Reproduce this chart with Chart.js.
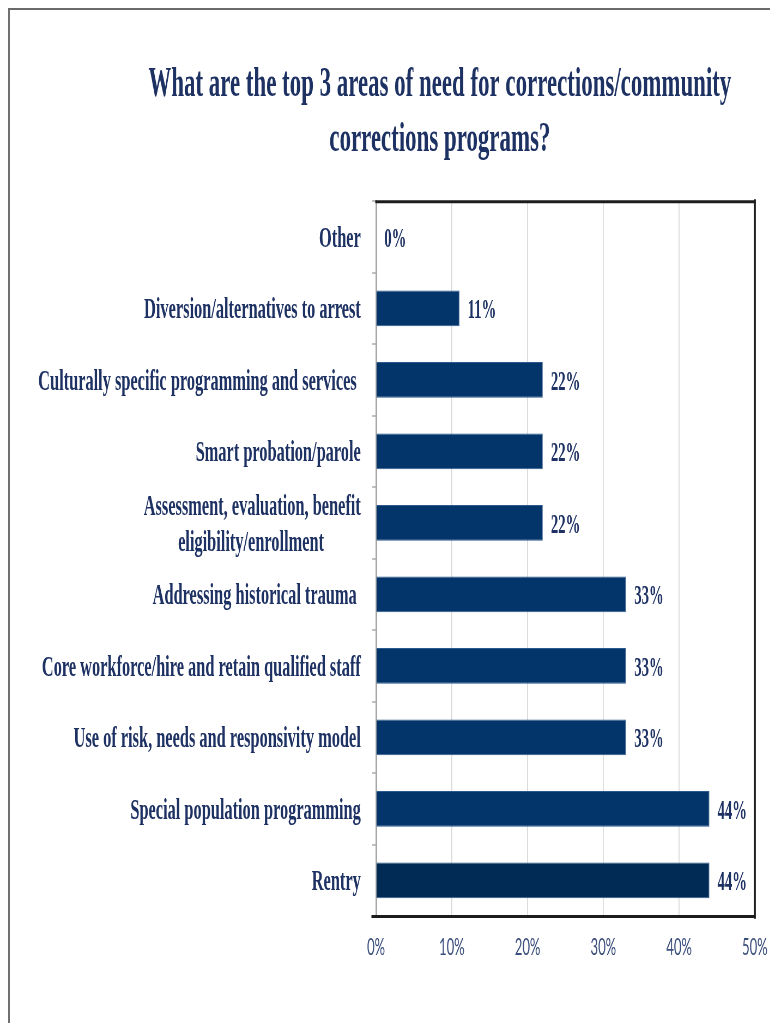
<!DOCTYPE html>
<html>
<head>
<meta charset="utf-8">
<title>Top 3 areas of need for corrections/community corrections programs</title>
<script src="https://cdn.jsdelivr.net/npm/chart.js@4.4.1/dist/chart.umd.min.js"></script>
<style>
  html, body { margin: 0; padding: 0; background: #ffffff; overflow: hidden; }
  /* page frame: thin grey rule along the left and top edges */
  #frame {
    position: absolute; left: 8px; top: 8px; width: 900px; height: 1100px;
    border-left: 2px solid #707070; border-top: 2px solid #6a6a6a;
  }
  /* the chart is laid out wide and squeezed horizontally, giving the condensed lettering */
  #stage {
    position: absolute; left: 0; top: 0; width: 1600px; height: 1023px;
    transform: scaleX(0.545); transform-origin: 0 0;
  }
</style>
</head>
<body>
<div id="frame"></div>
<div id="stage"><canvas id="chart" width="1600" height="1023"></canvas></div>
<script>
// ---- data ----
const titleLines = [
  'What are the top 3 areas of need for corrections/community',
  'corrections programs?'
];
const categories = [
  'Other',
  'Diversion/alternatives to arrest',
  'Culturally specific programming and services ',
  'Smart probation/parole',
  ['Assessment, evaluation, benefit', 'eligibility/enrollment         '],
  'Addressing historical trauma ',
  'Core workforce/hire and retain qualified staff',
  'Use of risk, needs and responsivity model',
  'Special population programming',
  'Rentry'
];
const shares = [0, 11, 22, 22, 22, 33, 33, 33, 44, 44];
const percentTicks = [0, 10, 20, 30, 40, 50];

// ---- styling ----
const SERIF = "'Liberation Serif', 'Times New Roman', serif";
const NAVY_TEXT = '#1d3163';
const barColors = categories.map((c, i) => i === categories.length - 1 ? '#012a55' : '#03356a');

// value labels to the right of each bar, plus the dark plot frame
const barExtras = {
  id: 'barExtras',
  afterDatasetsDraw(chart) {
    const ctx = chart.ctx;
    const meta = chart.getDatasetMeta(0);
    ctx.save();
    ctx.font = "bold 27px " + SERIF;
    ctx.fillStyle = NAVY_TEXT;
    ctx.textAlign = 'left';
    ctx.textBaseline = 'middle';
    meta.data.forEach((bar, i) => {
      ctx.fillText(shares[i] + '%', bar.x + 15, bar.y + 3);
    });
    ctx.restore();
  },
  afterDraw(chart) {
    const { ctx, chartArea: a } = chart;
    ctx.save();
    ctx.strokeStyle = '#1c1c1c';
    ctx.lineCap = 'square';
    ctx.lineWidth = 3;
    ctx.beginPath();
    ctx.moveTo(a.left, a.top + 0.5);
    ctx.lineTo(a.right, a.top + 0.5);
    ctx.stroke();
    ctx.beginPath();
    ctx.moveTo(a.left - 7, a.bottom + 0.5);
    ctx.lineTo(a.right, a.bottom + 0.5);
    ctx.stroke();
    ctx.lineWidth = 3.7;
    ctx.beginPath();
    ctx.moveTo(a.right, a.top);
    ctx.lineTo(a.right, a.bottom + 1);
    ctx.stroke();
    ctx.restore();
  }
};

new Chart(document.getElementById('chart'), {
  type: 'bar',
  data: {
    labels: categories,
    datasets: [{
      data: shares,
      xAxisID: 'x',
      yAxisID: 'y',
      backgroundColor: barColors,
      borderColor: '#2d5a8c',
      borderWidth: 1,
      categoryPercentage: 1,
      barPercentage: 0.5
    }]
  },
  options: {
    indexAxis: 'y',
    responsive: false,
    animation: false,
    devicePixelRatio: 1,
    layout: { padding: { left: 14, right: 0, top: 0, bottom: 0 } },
    plugins: {
      legend: { display: false },
      tooltip: { enabled: false },
      title: {
        display: true,
        text: titleLines,
        color: NAVY_TEXT,
        font: { family: SERIF, weight: 'bold', size: 42, lineHeight: 1.3 },
        padding: { top: 58, bottom: 34 }
      }
    },
    scales: {
      x: {
        type: 'linear',
        min: 0,
        max: 50,
        afterBuildTicks: s => { s.ticks = percentTicks.map(v => ({ value: v })); },
        afterFit: s => { s.height = 107; },
        grid: { color: '#d9d9d9', lineWidth: 1.8, drawTicks: false },
        border: { display: false },
        ticks: {
          maxRotation: 0,
          padding: 17,
          color: '#3b4f7d',
          font: { family: "Lato, 'Open Sans', sans-serif", size: 24 },
          callback: v => v + '%'
        }
      },
      y: {
        type: 'category',
        position: 'left',
        afterFit: s => { s.width = 676; },
        grid: { drawOnChartArea: false, drawTicks: true, tickLength: 7, color: '#bfbfbf', lineWidth: 2 },
        border: { color: '#a6a6a6', width: 3 },
        ticks: {
          autoSkip: false,
          padding: 21,
          labelOffset: 2,
          color: NAVY_TEXT,
          font: { family: SERIF, weight: 'bold', size: 30, lineHeight: 1.2 }
        }
      },
      // empty right-hand margin box that keeps the plot clear of the right edge
      yMargin: {
        type: 'linear',
        position: 'right',
        afterFit: s => { s.width = 215; },
        grid: { display: false },
        border: { display: false },
        ticks: { display: false }
      }
    }
  },
  plugins: [barExtras]
});
</script>
</body>
</html>
